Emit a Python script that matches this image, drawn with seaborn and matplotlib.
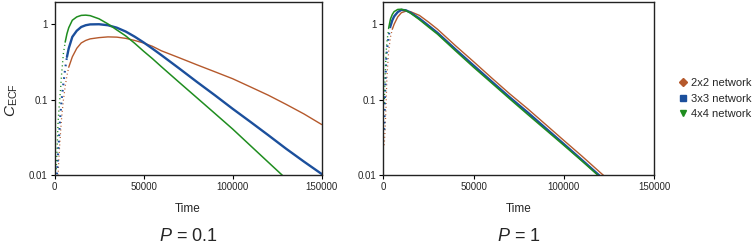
import numpy as np
import pandas as pd
import matplotlib
matplotlib.use("Agg")
import matplotlib.pyplot as plt
from matplotlib.lines import Line2D
import seaborn as sns

# ---------------- data ----------------
networks = ["2x2 network", "3x3 network", "4x4 network"]

# P = 0.1 panel
t_low = [1000, 2000, 2500, 3000, 3500, 4000, 5000, 6000, 7000, 8000, 10000, 12500,
         15000, 17500, 20000, 25000, 30000, 35000, 40000, 45000, 50000, 55000, 60000,
         70000, 80000, 90000, 100000, 110000, 120000, 130000, 140000, 150000]
c_low_2x2 = [0.004, 0.010, 0.0176, 0.027, 0.040, 0.058, 0.099, 0.15, 0.21, 0.27, 0.37, 0.48,
             0.565, 0.61, 0.64, 0.665, 0.68, 0.675, 0.65, 0.61, 0.565, 0.51, 0.445,
             0.36, 0.29, 0.235, 0.19, 0.148, 0.115, 0.087, 0.065, 0.047]
c_low_3x3 = [0.007, 0.019, 0.030, 0.050, 0.072, 0.10, 0.164, 0.26, 0.37, 0.48, 0.68, 0.82,
             0.92, 0.97, 0.995, 1.0, 0.97, 0.90, 0.80, 0.685, 0.575, 0.475, 0.39,
             0.26, 0.172, 0.115, 0.076, 0.051, 0.034, 0.0225, 0.0152, 0.0104]
c_low_4x4 = [0.012, 0.050, 0.075, 0.105, 0.15, 0.22, 0.41, 0.58, 0.75, 0.90, 1.13, 1.25,
             1.31, 1.32, 1.30, 1.18, 1.01, 0.84, 0.70, 0.56, 0.44, 0.35, 0.274,
             0.17, 0.106, 0.066, 0.041, 0.0247, 0.0149, 0.009, 0.0055, 0.0034]

# P = 1 panel
t_high = [500, 1000, 1500, 2000, 3000, 4000, 5000, 6000, 8000, 10000, 12500, 15000,
          20000, 25000, 30000, 40000, 50000, 60000, 70000, 80000, 90000, 100000,
          110000, 120000, 130000]
c_high_2x2 = [0.025, 0.04, 0.08, 0.2, 0.45, 0.68, 0.86, 1.0, 1.25, 1.42, 1.49, 1.47,
              1.31, 1.07, 0.86, 0.52, 0.32, 0.195, 0.12, 0.076, 0.047, 0.029,
              0.018, 0.011, 0.0068]
c_high_3x3 = [0.04, 0.12, 0.3, 0.45, 0.7, 0.95, 1.13, 1.27, 1.45, 1.55, 1.53, 1.43,
              1.19, 0.96, 0.77, 0.465, 0.285, 0.175, 0.108, 0.068, 0.042, 0.026,
              0.016, 0.0098, 0.006]
c_high_4x4 = [0.09, 0.2, 0.4, 0.58, 0.9, 1.18, 1.35, 1.47, 1.57, 1.58, 1.52, 1.41,
              1.15, 0.92, 0.74, 0.445, 0.27, 0.167, 0.103, 0.064, 0.04, 0.025,
              0.0155, 0.0095, 0.0058]

panel_titles = ["0.1", "1"]
x_ticks = [0, 50000, 100000, 150000]
y_ticks = [0.01, 0.1, 1]
y_ticklabels = ["0.01", "0.1", "1"]

# ---------------- style ----------------
sns.set_style("ticks")
plt.rcParams["font.family"] = ["Liberation Sans", "DejaVu Sans"]
plt.rcParams["mathtext.fontset"] = "custom"
plt.rcParams["mathtext.rm"] = "Liberation Sans"
plt.rcParams["mathtext.it"] = "Liberation Sans:italic"

colors = {"2x2 network": "#b5592c", "3x3 network": "#1b4f9c", "4x4 network": "#1f8d1f"}
widths = {"2x2 network": 1.0, "3x3 network": 1.7, "4x4 network": 1.1}
markers = {"2x2 network": "D", "3x3 network": "s", "4x4 network": "v"}
# time up to which the sparse (dotted) sampling is visible in each panel
dotted_until = [{"2x2 network": 8000, "3x3 network": 7000, "4x4 network": 6000},
                {"2x2 network": 5000, "3x3 network": 4000, "4x4 network": 3000}]

def make_df(t, series):
    rows = []
    for name, vals in zip(networks, series):
        for tt, v in zip(t, vals):
            rows.append({"Time": tt, "C": v, "network": name})
    return pd.DataFrame(rows)

df_low = make_df(t_low, [c_low_2x2, c_low_3x3, c_low_4x4])
df_high = make_df(t_high, [c_high_2x2, c_high_3x3, c_high_4x4])

W, H = 756, 245
fig = plt.figure(figsize=(W / 100, H / 100), dpi=100)

def ax_rect(x0, x1, ytop, ybot):
    return [x0 / W, 1 - ybot / H, (x1 - x0) / W, (ybot - ytop) / H]

ax1 = fig.add_axes(ax_rect(54.5, 321.7, 2, 175.3))
ax2 = fig.add_axes(ax_rect(383.3, 654, 2, 175.3))

for i, (ax, df, ptxt) in enumerate([(ax1, df_low, panel_titles[0]), (ax2, df_high, panel_titles[1])]):
    for name in networks:
        sub = df[df["network"] == name]
        lim = dotted_until[i][name]
        early = sub[sub["Time"] <= lim]
        late = sub[sub["Time"] >= lim]
        sns.lineplot(data=early, x="Time", y="C", ax=ax, color=colors[name],
                     linewidth=widths[name] * 0.9, linestyle=(0, (0.8, 2.2)),
                     legend=False, estimator=None, sort=True)
        sns.lineplot(data=late, x="Time", y="C", ax=ax, color=colors[name],
                     linewidth=widths[name], legend=False, estimator=None, sort=True)
    ax.set_yscale("log")
    ax.set_xlim(0, 150000)
    ax.set_ylim(0.01, 1.97)
    ax.set_xticks(x_ticks)
    ax.set_xticklabels([str(v) for v in x_ticks])
    ax.set_yticks(y_ticks)
    ax.set_yticklabels(y_ticklabels)
    ax.yaxis.set_minor_locator(matplotlib.ticker.NullLocator())
    ax.tick_params(axis="both", labelsize=7, length=3, width=0.8, pad=2, color="black")
    for s in ax.spines.values():
        s.set_visible(True)
        s.set_linewidth(1.0)
        s.set_color("#222222")
    ax.set_xlabel("Time", fontsize=8.5, labelpad=8)
    ax.set_ylabel("")
    bb = ax.get_position()
    fig.text((bb.x0 + bb.x1) / 2, 1 - 241 / H, "$P$ = " + ptxt, ha="center", va="baseline",
             fontsize=13)

fig.text(12 / W, 1 - 100 / H, "$C_{\\mathrm{ECF}}$", rotation=90, ha="center", va="center",
         fontsize=11)

handles = [Line2D([], [], linestyle="none", marker=markers[n], color=colors[n],
                  markersize=5 if markers[n] != "D" else 4) for n in networks]
fig.legend(handles, networks, loc="center left", bbox_to_anchor=(679 / W, 1 - 98.7 / H),
           frameon=False, fontsize=8, handlelength=0.8, handletextpad=0.3,
           labelspacing=0.5, borderpad=0, borderaxespad=0)

fig.savefig("out.png", dpi=100)
